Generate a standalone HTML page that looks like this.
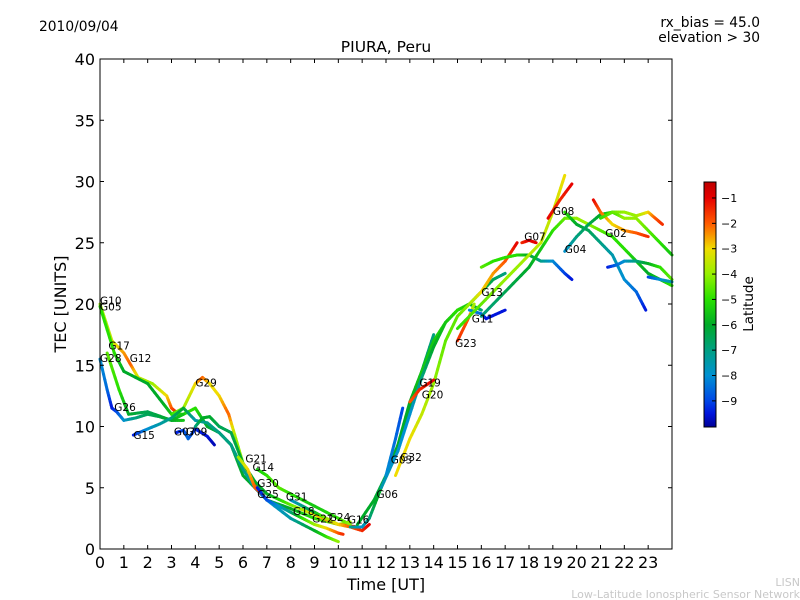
<!DOCTYPE html>
<html><head><meta charset="utf-8"><style>
body{margin:0;background:#fff;}
svg{display:block;font-family:"DejaVu Sans","Liberation Sans",sans-serif;}
</style></head><body>
<svg id="chart" width="800" height="600" viewBox="0 0 800 600">
<defs>
<linearGradient id="jet" x1="0" y1="1" x2="0" y2="0"></linearGradient>
</defs>
<text x="39" y="31" font-size="13.8">2010/09/04</text>
<text x="760" y="27" font-size="13.8" text-anchor="end">rx_bias = 45.0</text>
<text x="760" y="42" font-size="13.8" text-anchor="end">elevation &gt; 30</text>
<text x="386" y="52" font-size="15.5" text-anchor="middle">PIURA, Peru</text>
<text x="386" y="590" font-size="16" text-anchor="middle">Time [UT]</text>
<text x="66" y="304" font-size="16" text-anchor="middle" transform="rotate(-90 66 304)">TEC [UNITS]</text>
<text x="800" y="586" font-size="11" fill="#c8c8c8" text-anchor="end">LISN</text>
<text x="800" y="598" font-size="11" fill="#c8c8c8" text-anchor="end">Low-Latitude Ionospheric Sensor Network</text>
<g id="tracks"></g>
<g id="labels"></g>
<g id="axes"></g>
<rect x="100" y="59" width="572" height="490" fill="none" stroke="#000" stroke-width="1"/>
<rect x="704" y="182" width="12" height="245" fill="url(#jet)" stroke="#000" stroke-width="1"/>
<g id="cbticks"></g>
<text x="753" y="304" font-size="13.5" text-anchor="middle" transform="rotate(-90 753 304)">Latitude</text>
</svg>
<script>
const xTicks=[0,1,2,3,4,5,6,7,8,9,10,11,12,13,14,15,16,17,18,19,20,21,22,23];
const yTicks=[0,5,10,15,20,25,30,35,40];
const cbTicks=[-1,-2,-3,-4,-5,-6,-7,-8,-9];
const trackIds=["a","b","c","d","e","f","g","h","i","j","k","l","m","n","o","p","q","r","s","t","u","v","w","x","y","z","aa","ab","ac","ad","ae"];
const trackT=[
[0,0.5,1,1.3,1.6,2.2,2.8,3,3.3],
[0,0.6,1,2,2.6,3,3.5,4,4.5,5,5.5,6,6.5,7,8,9,10,10.5],
[3,3.5,4,4.3,4.6,5,5.4,5.7,6,6.4,6.8],
[0,0.3,0.5,0.7,1,1.5,2,2.5,3,3.5],
[0.3,0.8,1.2,2,3,3.5],
[1.4,2,2.5,3,3.5,4,4.5,5,5.5,6,6.5,7,8,9,9.5,10],
[3.2,3.5,3.7,4,4.5,4.8],
[4,4.3,4.6,5,5.5,6,6.5,7,8,9,10,10.8],
[5.8,6.2,6.5,6.8],
[6.6,7,7.5,8,9,10,10.5],
[6.6,7,7.5,8,8.5,9,9.5,10,10.2],
[8,8.5,9,9.5,10,10.5,11,11.3],
[10.5,11,11.3,11.6,12,12.5,13,13.5,14],
[10.8,11.5,12,12.5,13,13.5,14,14.5,15,15.5,16,16.5,17],
[11.8,12.5,13,13.5,14,14.5,15,15.5,16],
[12,12.4,12.7],
[12.4,13,13.5,14,14.5,15,15.5,16,16.5,17,17.5],
[15,15.5,15.7],
[15.5,16,16.2,17],
[16,16.5,17,17.5,18,18.5,19,19.5,19.8],
[16,17,18,19,19.5,20,20.5,21,21.5,22,22.5,23,23.5,24],
[15,16,17,17.5,18.5,19,19.5],
[18.8,19.3,19.8],
[19.5,20,20.5,21,21.5,22,22.5,22.9],
[19.5,20,20.5,21,21.5,22,22.5,23,23.5,24],
[20.7,21,21.5,22,22.5,23],
[21,21.5,22,22.5,23,23.3,23.6],
[21.3,21.7,22,22.5,23,23.5,24],
[23,23.5,24],
[17.7,18,18.3],
[13,13.4,14]
];
const trackTec=[
[20,17,16,15,14,13.5,12.5,11.5,11],
[19.8,16,14.5,13.5,12,11,11,11.5,10,9.5,8.5,6,5,4,3.3,2.5,2,2.2],
[11,11.5,13.5,14,13.5,12.5,11,9,7,5.5,4.5],
[15.5,13,11.5,11.2,10.5,10.7,11,10.8,10.5,10.5],
[16,13,11,11.2,10.5,11],
[9.3,9.8,10.2,10.7,11.5,10.5,10.3,9.5,8.5,6.5,5,4,2.5,1.5,1,0.6],
[9.5,9.7,9,9.8,9.2,8.5],
[10,10.7,10.8,10,9.5,7,5.5,4.5,3.6,2.8,2,1.8],
[7.5,6.5,5,4.5],
[6.5,6,5,4.5,3.5,2.5,2],
[5,4,3.5,3,2.5,2,1.7,1.3,1.2],
[4,3.5,3,2.5,2,1.8,1.5,2],
[1.8,1.8,2.5,4,6,8,11.5,14.5,17.5],
[2,4,6,8.5,12,14.5,17,18.5,19.5,20,21,22,22.5],
[5,8,11,14,16.5,18.5,19.5,20,19.5],
[6,9,11.5],
[6,9,11,13.5,17,19,20,21,22.5,23.5,25],
[17,19,20],
[19.5,19.2,18.8,19.5],
[23,23.5,23.8,24,24,23.5,23.5,22.5,22],
[19,21,23,26,27,27,26.5,26,25.5,24.5,23.5,22.5,22,21.5],
[18,20,22,23,25,27.5,30.5],
[27,28.5,29.8],
[27.5,26.5,26,25,24,22,21,19.5],
[24.3,25.5,26.5,27.3,27.5,27,27,26,25,24],
[28.5,27.5,26.5,26,25.8,25.5],
[27,27.5,27.5,27.2,27.5,27,26.5],
[23,23.2,23.5,23.5,23.3,23,22],
[22.2,22,21.8],
[25,25.2,25],
[12,13,13.8]
];
const trackLat=[
[-4,-3.5,-2.5,-2,-3.5,-4,-3,-2,-1],
[-5,-5,-6,-6,-6,-5.5,-5,-5,-6,-6.5,-6.5,-6,-6,-6.5,-6,-5,-4,-4],
[-5,-4,-3,-2,-3,-3,-2,-4,-4,-2,-1.5],
[-8,-8.5,-9.5,-9,-8,-7,-6.5,-6.5,-6,-5.5],
[-4.5,-5,-6,-6.5,-6,-5.5],
[-9.5,-8,-7.5,-7,-6,-7.5,-7,-7,-7,-7,-7.5,-8,-7.5,-6,-5,-4],
[-9.5,-9,-8.5,-9.3,-9.5,-9.8],
[-7,-6,-6,-6.5,-6.5,-6,-6,-6,-4.5,-3,-2,-1.2],
[-4,-3,-2,-1.5],
[-5.5,-5,-4.5,-5,-5.5,-5,-4],
[-9.5,-9,-8,-7,-5,-4,-3,-2,-1.5],
[-8,-7,-6,-4,-3,-2,-1.5,-1],
[-7,-8,-7,-6,-6,-6,-6,-6.5,-7],
[-6,-6,-6.5,-6,-6,-5.5,-5.5,-5,-5,-5.5,-6,-6.5,-7],
[-7.5,-8,-8,-7,-6,-5.5,-5,-5.5,-7],
[-8,-8.5,-9],
[-3,-3,-3.5,-4,-4.5,-4.5,-4,-3,-2.5,-2,-1],
[-1.5,-2,-4],
[-8,-8.5,-9.5,-9.5],
[-4.5,-5,-5,-5,-6,-7,-8,-9,-9.5],
[-7,-6.5,-6,-5,-4.5,-4,-4,-4.5,-5,-5,-5.5,-6,-5.5,-5],
[-5,-4.5,-4,-4,-3.5,-3.5,-3],
[-1,-1.5,-1],
[-5,-6,-6.5,-7,-7.5,-8,-8.5,-9.5],
[-8,-7,-6.5,-6,-5,-4,-4,-4.5,-5,-5.5],
[-1,-2,-3,-2.5,-2,-1.5],
[-5,-4.5,-4,-4,-3,-2,-1.5],
[-9.5,-8.5,-8,-7,-6,-5,-4.5],
[-9,-8,-7.5],
[-1.5,-1,-1],
[-2,-1.5,-1]
];
const satNames=["G10","G05","G17","G12","G28","G29","G26","G15","G07","G09","G21","G14","G30","G25","G31","G18","G22","G24","G16","G06","G03","G32","G19","G20","G23","G11","G13","G07","G08","G04","G02"];
const satT=[0,0,0.35,1.25,0,4,0.6,1.4,3.1,3.6,6.1,6.4,6.6,6.6,7.8,8.1,8.9,9.6,10.4,11.6,12.2,12.6,13.4,13.5,14.9,15.6,16,17.8,19,19.5,21.2];
const satTec=[20.3,19.8,16.6,15.6,15.6,13.6,11.6,9.3,9.6,9.6,7.4,6.7,5.4,4.5,4.3,3.1,2.5,2.6,2.4,4.5,7.3,7.5,13.6,12.6,16.8,18.8,21,25.5,27.6,24.5,25.8];
const X=t=>100+t*(572/24), Y=v=>549-v*12.25;
const LMIN=-10.03, LMAX=-0.37;
const cmLat=[-10.03,-9.5,-9,-8,-7,-6,-5,-4,-3,-2,-1,-0.37];
const cmCol=[[0,0,150],[0,20,220],[0,70,230],[0,145,210],[0,160,130],[0,170,40],[40,225,0],[150,240,0],[240,220,0],[255,90,0],[230,0,0],[190,0,0]];
function jet(lat){
  if(lat<=cmLat[0])return `rgb(${cmCol[0]})`;
  for(let i=0;i<cmLat.length-1;i++){
    if(lat<=cmLat[i+1]){const a=(lat-cmLat[i])/(cmLat[i+1]-cmLat[i]);
      const c=cmCol[i].map((v,j)=>Math.round(v+(cmCol[i+1][j]-v)*a));return `rgb(${c})`;}
  }
  return `rgb(${cmCol[cmCol.length-1]})`;
}
const NS="http://www.w3.org/2000/svg";
const grad=document.getElementById("jet");
cmLat.forEach((l,i)=>{const s=document.createElementNS(NS,"stop");


s.setAttribute("offset",(l-LMIN)/(LMAX-LMIN));s.setAttribute("stop-color",`rgb(${cmCol[i]})`);grad.appendChild(s);});
const tg=document.getElementById("tracks");
trackIds.forEach((id,i)=>{
  const grp=document.createElementNS(NS,"g");
  
  
  const T=trackT[i],V=trackTec[i],L=trackLat[i];
  for(let k=0;k<T.length-1;k++){
    const n=6;
    for(let s=0;s<n;s++){
      const a=s/n,b=(s+1)/n;
      const ln=document.createElementNS(NS,"line");
      
      
      ln.setAttribute("x1",X(T[k]+(T[k+1]-T[k])*a));ln.setAttribute("y1",Y(V[k]+(V[k+1]-V[k])*a));
      ln.setAttribute("x2",X(T[k]+(T[k+1]-T[k])*b));ln.setAttribute("y2",Y(V[k]+(V[k+1]-V[k])*b));
      ln.setAttribute("stroke",jet(L[k]+(L[k+1]-L[k])*(a+b)/2));
      ln.setAttribute("stroke-width","3");ln.setAttribute("stroke-linecap","round");
      grp.appendChild(ln);
    }
  }
  tg.appendChild(grp);
});
const lg=document.getElementById("labels");
satNames.forEach((nm,i)=>{
  const t=document.createElementNS(NS,"text");
  
  
  t.setAttribute("x",X(satT[i]));t.setAttribute("y",Y(satTec[i])+4);
  t.setAttribute("font-size","10.5");t.textContent=nm;lg.appendChild(t);
});
const ax=document.getElementById("axes");
function add(tag,attrs,txt,name){const e=document.createElementNS(NS,tag);for(const k in attrs)e.setAttribute(k,attrs[k]);if(txt!==undefined)e.textContent=txt;


return e;}
xTicks.forEach(t=>{
  ax.appendChild(add("line",{x1:X(t),x2:X(t),y1:549,y2:545,stroke:"#000"},undefined,'x-tick'));
  ax.appendChild(add("line",{x1:X(t),x2:X(t),y1:59,y2:63,stroke:"#000"},undefined,'x-tick-top'));
  ax.appendChild(add("text",{x:X(t),y:568,"font-size":16,"text-anchor":"middle"},String(t),'x-tick-label'));
});
yTicks.forEach(v=>{
  ax.appendChild(add("line",{x1:100,x2:104,y1:Y(v),y2:Y(v),stroke:"#000"},undefined,'y-tick'));
  ax.appendChild(add("line",{x1:672,x2:668,y1:Y(v),y2:Y(v),stroke:"#000"},undefined,'y-tick-right'));
  ax.appendChild(add("text",{x:95,y:Y(v)+6,"font-size":16,"text-anchor":"end"},String(v),'y-tick-label'));
});
const cb=document.getElementById("cbticks");
const CY=l=>427-(l-LMIN)/(LMAX-LMIN)*245;
cbTicks.forEach(l=>{
  cb.appendChild(add("line",{x1:712,x2:716,y1:CY(l),y2:CY(l),stroke:"#000"},undefined,'colorbar-tick'));
  cb.appendChild(add("text",{x:721,y:CY(l)+4,"font-size":11},"\u2212"+Math.abs(l),'colorbar-tick-label'));
});
</script>
</body></html>
